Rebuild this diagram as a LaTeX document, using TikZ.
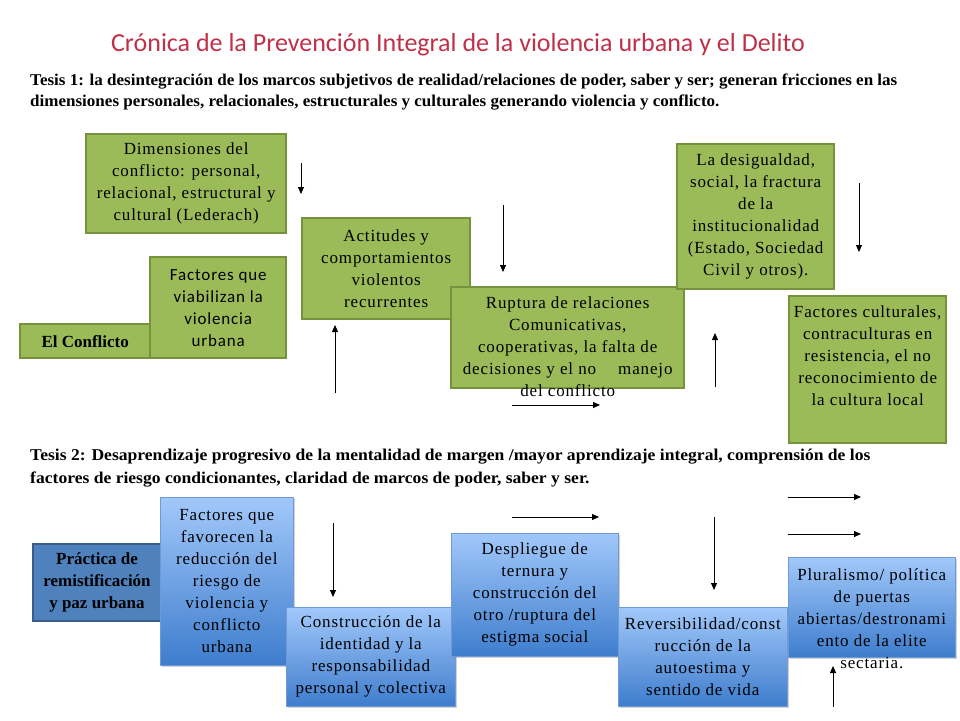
\documentclass[tikz,border=0pt]{standalone}
\usepackage{fontspec}
\setmainfont{Liberation Serif}
\newfontfamily\calfont{Carlito}
\usetikzlibrary{arrows.meta,shadows}
\definecolor{titred}{RGB}{192,48,72}
\definecolor{gfill}{RGB}{155,187,89}
\definecolor{gline}{RGB}{118,146,60}
\definecolor{btop}{RGB}{162,200,250}
\definecolor{bbot}{RGB}{62,125,205}
\definecolor{bline}{RGB}{110,155,215}
\definecolor{pfill}{RGB}{79,129,189}
\definecolor{pline}{RGB}{56,93,138}

\begin{document}
\begin{tikzpicture}[x=1pt,y=-1pt,
  txt/.style={font=\fontsize{17}{22}\selectfont\addfontfeature{LetterSpace=5},align=center,inner sep=0pt},
  gbox/.style n args={2}{txt,draw=gline,line width=2.4pt,fill=gfill,minimum width=#1,minimum height=#2,anchor=north west},
  bbox/.style n args={2}{txt,draw=bline,line width=0.6pt,top color=btop,bottom color=bbot,minimum width=#1,minimum height=#2,anchor=north west,drop shadow={shadow xshift=2pt,shadow yshift=-2pt,opacity=0.35}},
  pbox/.style n args={2}{txt,draw=pline,line width=2pt,fill=pfill,minimum width=#1,minimum height=#2,anchor=north west,font=\bfseries\fontsize{17}{22}\selectfont},
  tesis/.style={anchor=west,inner sep=0pt,xscale=#1,font=\bfseries\fontsize{16.5}{20}\selectfont},
  arr/.style={-{Triangle[length=7pt,width=6pt]},line width=0.8pt}]
\useasboundingbox[fill=white] (0,0) rectangle (960,720);

% titulo y tesis
\node[font=\calfont\fontsize{26}{30}\selectfont,text=titred] (tit) at (458,45)
   {Crónica de la Prevención Integral de la violencia urbana y el Delito};
\node[tesis=1.032] (t1a) at (30,82) {Tesis 1: la desintegración de los marcos subjetivos de realidad/relaciones de poder, saber y ser;  generan fricciones en las};
\node[tesis=1.032] (t1b) at (30,103) {dimensiones personales, relacionales, estructurales y culturales generando violencia y conflicto.};
\node[tesis=1.065] (t2a) at (30,457) {Tesis 2:  Desaprendizaje progresivo de la mentalidad de margen /mayor aprendizaje integral, comprensión de los};
\node[tesis=1.065] (t2b) at (30,480) {factores de riesgo condicionantes, claridad de marcos de poder, saber y ser.};

% tesis 1
\node[gbox={200}{99}] (dim) at (85,133) {Dimensiones del\\conflicto: personal,\\relacional, estructural y\\cultural (Lederach)};
\node[gbox={136}{101},font=\calfont\fontsize{17}{22}\selectfont\addfontfeature{LetterSpace=5}] (fac) at (149,256)
   {Factores que\\viabilizan la\\violencia\\urbana};
\node[gbox={130}{34},font=\bfseries\fontsize{17}{22}\selectfont] (con) at (19,323) {El Conflicto};
\node[gbox={168}{101}] (act) at (301,217) {Actitudes y\\comportamientos\\violentos\\recurrentes};
\node[gbox={233}{101}] (rup) at (450,286) {};
\node[txt,anchor=north] (ruptxt) at ([yshift=-10pt]rup.north)
   {Ruptura de relaciones\\Comunicativas,\\cooperativas, la falta de\\decisiones y el no \quad manejo\\del conflicto};
\node[gbox={157}{145}] (des) at (676,143)
   {La desigualdad,\\social,  la fractura\\de la\\institucionalidad\\(Estado, Sociedad\\Civil y otros).};
\node[gbox={157}{147}] (cul) at (788,295)
   {Factores culturales,\\contraculturas en\\resistencia, el  no\\reconocimiento de\\la cultura local\\ \strut};

% tesis 2
\node[pbox={128}{77}] (pra) at (32,543) {Práctica de\\remistificación\\y paz urbana};
\node[bbox={133}{168}] (fav) at (160,497)
   {Factores que\\favorecen la\\reducción del\\riesgo de\\violencia y\\conflicto\\urbana};
\node[bbox={169}{99}] (cons) at (286,607)
   {Construcción de la\\identidad y la\\responsabilidad\\personal y colectiva};
\node[bbox={167}{123}] (desp) at (451,533)
   {Despliegue de\\ternura y\\construcción del\\otro /ruptura del\\estigma social};
\node[bbox={169}{99}] (rev) at (618,607)
   {Reversibilidad/const\\rucción de la\\autoestima y\\sentido de vida};
\node[bbox={167}{100}] (plu) at (788,557) {};
\node[txt,anchor=north] (plutxt) at ([yshift=-11pt]plu.north)
   {Pluralismo/ política\\de puertas\\abiertas/destronami\\ento de la elite\\sectaria.};

% flechas sueltas
\foreach \n/\xa/\ya/\xb/\yb in {1/301/163/301/194, 2/503/205/503/272, 3/335/393/335/325,
   4/512/405/600/405, 5/715/387/715/333, 6/859/183/859/252, 7/333/523/333/597,
   8/512/517/599/517, 9/714/517/714/590, 10/788/497/861/497, 11/788/534/861/534,
   12/833/707/833/666} {
   \coordinate (s\n) at (\xa,\ya);
   \coordinate (e\n) at (\xb,\yb);
   \draw[arr] (s\n) -- (e\n);
}
\end{tikzpicture}
\end{document}
